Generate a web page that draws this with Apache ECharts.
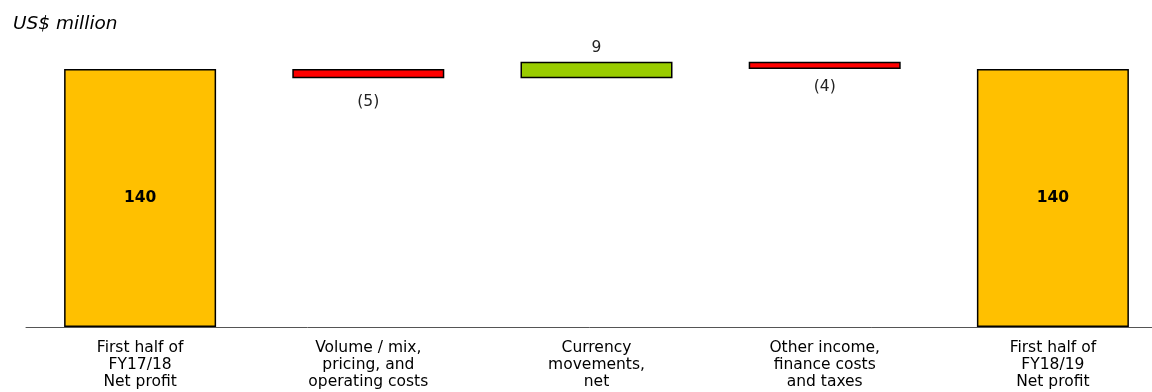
<!DOCTYPE html>
<html>
<head>
<meta charset="utf-8">
<script src="https://cdn.jsdelivr.net/npm/echarts@6/dist/echarts.min.js"></script>
<style>
  html, body { margin: 0; padding: 0; background: #fff; }
  #main { width: 1152px; height: 392px; }
</style>
</head>
<body>
<div id="main"></div>
<script>
var categories = [
  'First half of\nFY17/18\nNet profit',
  'Volume / mix,\npricing, and\noperating costs',
  'Currency\nmovements,\nnet',
  'Other income,\nfinance costs\nand taxes',
  'First half of\nFY18/19\nNet profit'
];
var changes = [140, -5, 9, -4, 140];
var isTotal = [true, false, false, false, true];
var valueLabels = ['140', '(5)', '9', '(4)', '140'];
var barColors = ['#FFC000', '#FF0000', '#99CC00', '#FF0000', '#FFC000'];

var chartDom = document.getElementById('main');
var myChart = echarts.init(chartDom);
var option;

// waterfall: invisible base + visible piece
var baseData = [];
var pieceData = [];
var running = 0;
for (var i = 0; i < changes.length; i++) {
  var v = changes[i];
  var base, h;
  if (isTotal[i]) {
    base = 0; h = v; running = v;
  } else if (v >= 0) {
    base = running; h = v; running += v;
  } else {
    running += v; base = running; h = -v;
  }
  baseData.push(base);
  var lbl;
  if (isTotal[i]) {
    lbl = { position: 'inside', fontWeight: 'bold', fontSize: 15.5, color: '#000' };
  } else if (v >= 0) {
    lbl = { position: 'top', distance: 6 };
  } else {
    lbl = { position: 'bottom', distance: i === 1 ? 16 : 10 };
  }
  pieceData.push({
    value: h,
    itemStyle: { color: barColors[i] },
    label: lbl
  });
}

option = {
  animation: false,
  title: {
    text: 'US$ million',
    left: 8,
    top: 10,
    textStyle: {
      fontFamily: 'DejaVu Sans',
      fontStyle: 'italic',
      fontWeight: 'normal',
      fontSize: 18.5,
      color: '#000'
    }
  },
  grid: {
    left: 26,
    width: 1141,
    top: 50.6,
    bottom: 65,
    outerBoundsMode: 'none'
  },
  xAxis: {
    type: 'category',
    data: categories,
    axisLine: { lineStyle: { color: '#555', width: 1 } },
    axisTick: { show: false },
    axisLabel: {
      margin: 12,
      fontFamily: 'DejaVu Sans',
      fontSize: 15.5,
      lineHeight: 17,
      color: '#000',
      interval: 0
    }
  },
  yAxis: {
    type: 'value',
    min: 0,
    max: 150,
    show: false,
    splitLine: { show: false }
  },
  series: [
    {
      type: 'bar',
      stack: 'w',
      data: baseData,
      itemStyle: { color: 'transparent' },
      barWidth: 152,
      silent: true
    },
    {
      type: 'bar',
      stack: 'w',
      data: pieceData,
      barWidth: 152,
      itemStyle: { borderColor: '#000', borderWidth: 1.5 },
      label: {
        show: true,
        fontFamily: 'DejaVu Sans',
        fontSize: 15.5,
        color: '#222',
        formatter: function (p) { return valueLabels[p.dataIndex]; }
      }
    }
  ]
};

myChart.setOption(option);
</script>
</body>
</html>
